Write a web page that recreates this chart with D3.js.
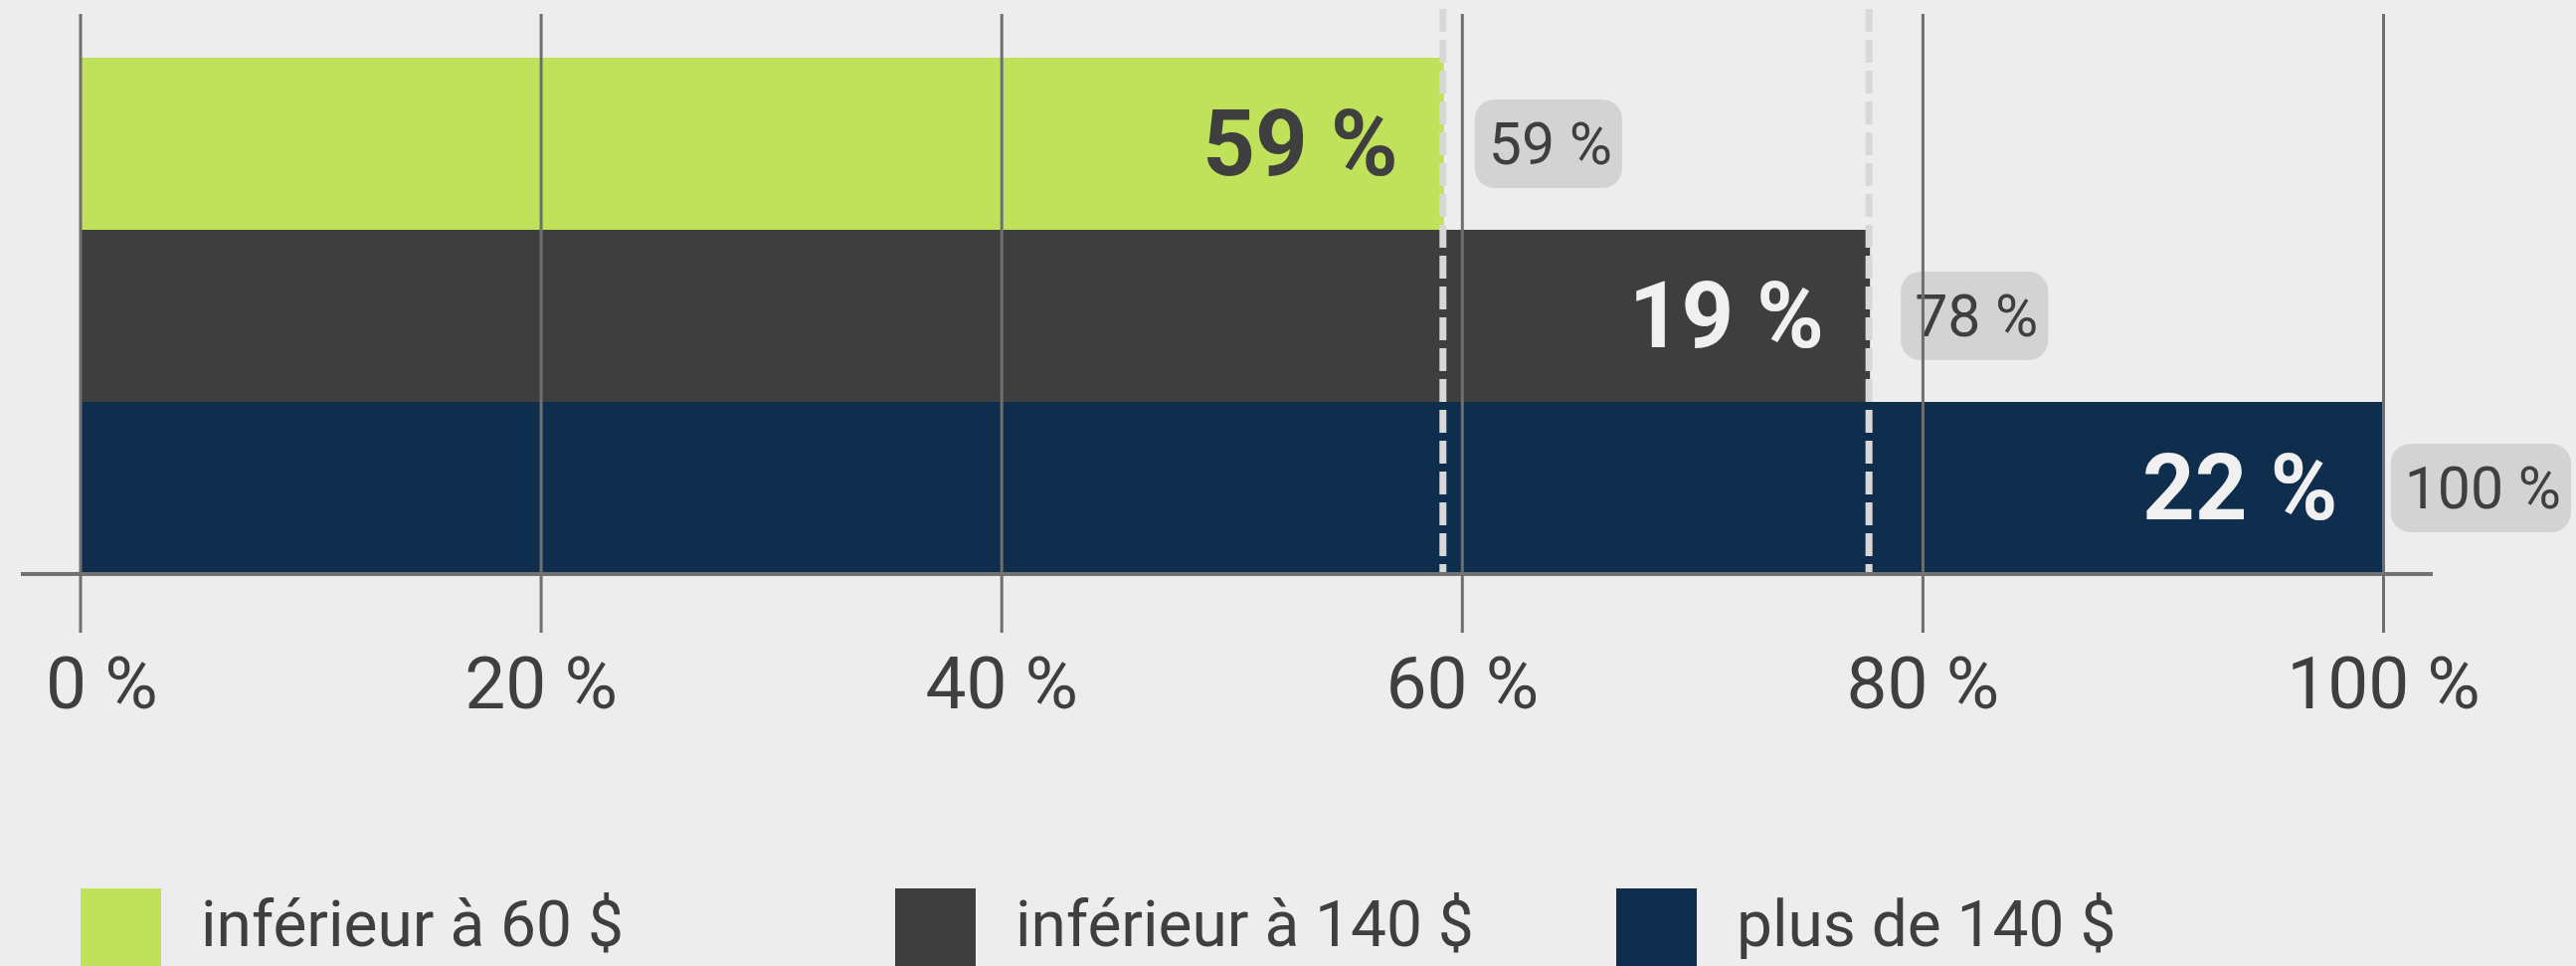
<!DOCTYPE html>
<html>
<head>
<meta charset="utf-8">
<script src="https://cdn.jsdelivr.net/npm/d3@7"></script>
<style>
  html, body { margin: 0; padding: 0; background: #ededed; }
  svg { display: block; }
  text { font-family: Roboto, "Noto Sans", sans-serif; }
</style>
</head>
<body>
<svg id="chart" width="2590" height="971"></svg>
<script>
// ---- data ----
const categories = ["inférieur à 60 $", "inférieur à 140 $", "plus de 140 $"];
const shares = [59.2, 18.5, 22.3];          // segment share (%)
const shareLabels = ["59 %", "19 %", "22 %"];
const cumulativeLabels = ["59 %", "78 %", "100 %"];
const tickValues = [0, 20, 40, 60, 80, 100];
const tickLabels = ["0 %", "20 %", "40 %", "60 %", "80 %", "100 %"];
const colors = ["#c0e25a", "#3e3e3e", "#0f2d4c"];
const innerLabelColors = ["#3f3f3f", "#f0f0f0", "#f0f0f0"];

// ---- layout ----
const W = 2590, H = 971;
const svg = d3.select("#chart");
svg.append("rect").attr("width", W).attr("height", H).attr("fill", "#ededed");

const x = d3.scaleLinear().domain([0, 100]).range([81, 2396.5]);
const y = d3.scaleBand().domain(categories).range([58, 577]).padding(0);

let acc = 0;
const rows = categories.map((c, i) => {
  acc += shares[i];
  return { cat: c, share: shares[i], end: acc, color: colors[i],
           label: shareLabels[i], cumLabel: cumulativeLabels[i], labelColor: innerLabelColors[i] };
});

// bars (each starting at 0, ending at the cumulative value)
svg.append("g").selectAll("rect").data(rows).join("rect")
  .attr("x", x(0))
  .attr("y", d => y(d.cat))
  .attr("width", d => x(d.end) - x(0))
  .attr("height", y.bandwidth())
  .attr("fill", d => d.color);

// dashed reference lines at cumulative values (except 100)
svg.append("g").selectAll("line").data(rows.slice(0, 2)).join("line")
  .attr("x1", d => x(d.end) - 1).attr("x2", d => x(d.end) - 1)
  .attr("y1", 9).attr("y2", 577)
  .attr("stroke", "#d8d8d8").attr("stroke-width", 7)
  .attr("stroke-dasharray", "23 8");

// cumulative label boxes
const boxG = svg.append("g");
rows.forEach(d => {
  const g = boxG.append("g");
  const t = g.append("text")
    .attr("font-size", 59)
    .attr("fill", "#3f3f3f")
    .attr("y", y(d.cat) + y.bandwidth() / 2 + 20.5)
    .text(d.cumLabel);
  const tw = t.node().getComputedTextLength();
  const bw = tw + 24, bh = 89;
  let bx = x(d.end) + 31;
  if (bx + bw > W - 5) bx = W - 5 - bw;
  const by = y(d.cat) + y.bandwidth() / 2 - bh / 2;
  g.insert("rect", "text")
    .attr("x", bx).attr("y", by).attr("width", bw).attr("height", bh)
    .attr("rx", 20).attr("ry", 20).attr("fill", "#d3d3d3");
  t.attr("x", bx + 14);
});

// gridlines / ticks
svg.append("g").selectAll("line").data(tickValues).join("line")
  .attr("x1", d => x(d)).attr("x2", d => x(d))
  .attr("y1", 14).attr("y2", 636)
  .attr("stroke", "#6f6f6f").attr("stroke-width", 3);

// baseline
svg.append("line")
  .attr("x1", 21).attr("x2", 2446).attr("y1", 577).attr("y2", 577)
  .attr("stroke", "#717171").attr("stroke-width", 4);

// tick labels
svg.append("g").selectAll("text").data(tickValues).join("text")
  .attr("font-size", 73)
  .attr("fill", "#3f3f3f")
  .attr("y", 712)
  .text((d, i) => tickLabels[i])
  .each(function (d) {
    const w = this.getComputedTextLength();
    let left = x(d) - w / 2;
    if (left < 46) left = 46;
    d3.select(this).attr("x", left);
  });

// inner share labels
svg.append("g").selectAll("text").data(rows).join("text")
  .attr("font-size", 92)
  .attr("font-weight", 700)
  .attr("text-anchor", "end")
  .attr("fill", d => d.labelColor)
  .attr("x", d => x(d.end) - 46)
  .attr("y", d => y(d.cat) + y.bandwidth() / 2 + 31)
  .text(d => d.label);

// legend
const legendX = [81, 900, 1625];
const lg = svg.append("g").selectAll("g").data(rows).join("g")
  .attr("transform", (d, i) => `translate(${legendX[i]},893)`);
lg.append("rect").attr("width", 81).attr("height", 81).attr("fill", d => d.color);
lg.append("text")
  .attr("x", 121).attr("y", 58)
  .attr("font-size", 64).attr("fill", "#3f3f3f")
  .text(d => d.cat);
</script>
</body>
</html>
